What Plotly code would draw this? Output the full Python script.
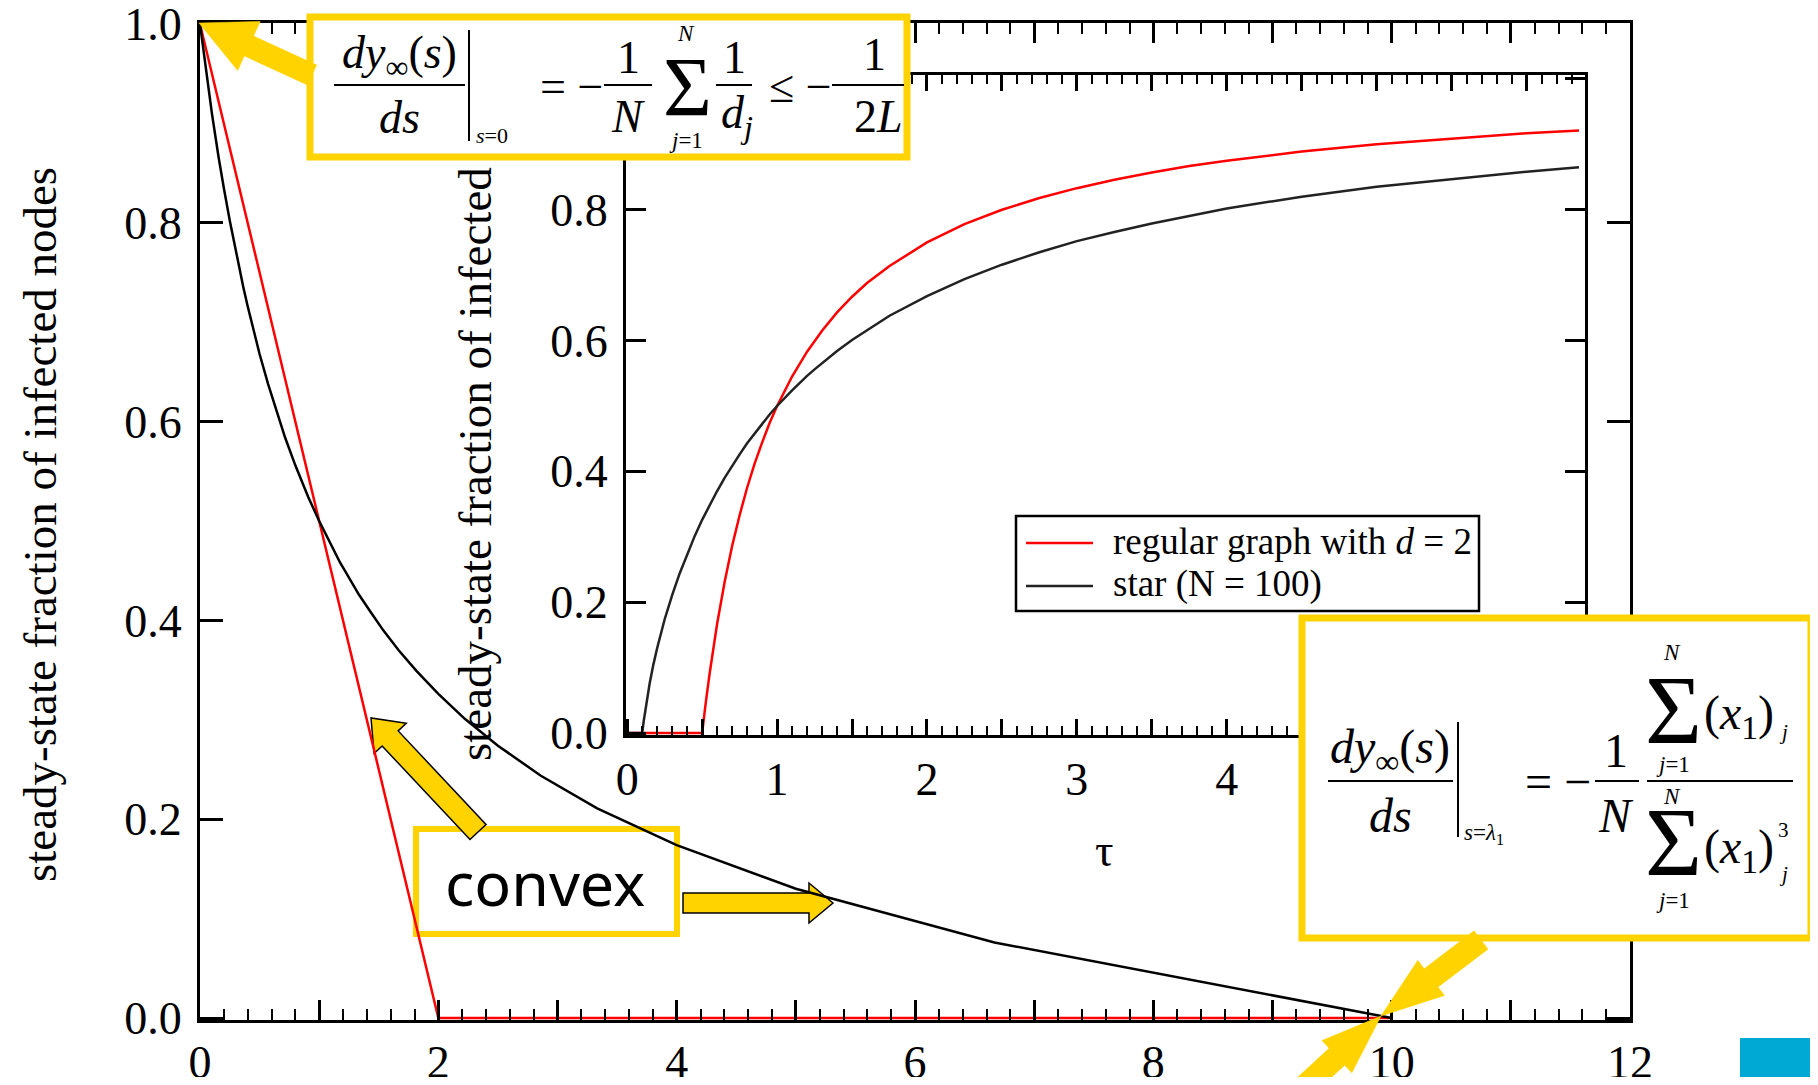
import math
import plotly.graph_objects as go

# ---------------- data ----------------
# main plot: steady-state fraction vs s
main_s_star = [0, 0.05, 0.1, 0.156, 0.1667, 0.2, 0.25, 0.308, 0.333, 0.364, 0.4, 0.444, 0.5, 0.571,
               0.667, 0.714, 0.8, 0.833, 0.909, 1.0, 1.053, 1.111, 1.176, 1.25, 1.333, 1.429, 1.538,
               1.667, 1.818, 2.0, 2.222, 2.5, 2.857, 3.333, 4.0, 5.0, 6.667, 10.0]
main_y_star = [1.0, 0.953, 0.910, 0.866, 0.858, 0.835, 0.802, 0.766, 0.752, 0.735, 0.716, 0.694, 0.668,
               0.638, 0.601, 0.584, 0.556, 0.546, 0.524, 0.500, 0.487, 0.473, 0.458, 0.443, 0.426,
               0.409, 0.390, 0.370, 0.349, 0.326, 0.301, 0.274, 0.244, 0.211, 0.174, 0.130, 0.076, 0.0]
main_s_reg = [0, 2.0, 10.0]
main_y_reg = [1.0, 0.0, 0.0]

# inset: steady-state fraction vs tau
inset_tau_star = [0, 0.1, 0.11, 0.125, 0.15, 0.175, 0.2, 0.25, 0.3, 0.35, 0.4, 0.45, 0.5, 0.55, 0.6,
                  0.65, 0.7, 0.75, 0.8, 0.85, 0.9, 0.95, 1.0, 1.1, 1.2, 1.25, 1.4, 1.5, 1.75, 2.0,
                  2.25, 2.5, 2.75, 3.0, 3.25, 3.5, 4.0, 4.5, 5.0, 5.5, 6.0, 6.35]
inset_y_star = [0, 0, 0.018, 0.042, 0.076, 0.105, 0.130, 0.174, 0.211, 0.244, 0.274, 0.301, 0.326,
                0.349, 0.370, 0.390, 0.409, 0.426, 0.443, 0.458, 0.473, 0.487, 0.500, 0.524, 0.546,
                0.556, 0.584, 0.601, 0.638, 0.668, 0.694, 0.716, 0.735, 0.752, 0.766, 0.779, 0.802,
                0.820, 0.835, 0.847, 0.858, 0.865]
inset_tau_reg = [0, 0.5, 0.525, 0.55, 0.6, 0.65, 0.7, 0.75, 0.8, 0.85, 0.9, 0.95, 1.0, 1.1, 1.2,
                 1.3, 1.4, 1.5, 1.6, 1.75, 2.0, 2.25, 2.5, 2.75, 3.0, 3.25, 3.5, 3.75, 4.0, 4.5,
                 5.0, 5.5, 6.0, 6.35]
inset_y_reg = [0, 0, 0.048, 0.091, 0.167, 0.231, 0.286, 0.333, 0.375, 0.412, 0.444, 0.474, 0.500,
               0.545, 0.583, 0.615, 0.643, 0.667, 0.688, 0.714, 0.750, 0.778, 0.800, 0.818, 0.833,
               0.846, 0.857, 0.867, 0.875, 0.889, 0.900, 0.909, 0.917, 0.921]

series_names = ["regular graph with <i>d</i> = 2", "star (N = 100)"]

main_x_tickvals = list(range(0, 13))
main_x_ticktext = [str(v) if v % 2 == 0 else " " for v in main_x_tickvals]
main_y_tickvals = [0, 0.2, 0.4, 0.6, 0.8, 1.0]
main_y_ticktext = ["0.0", "0.2", "0.4", "0.6", "0.8", "1.0"]
inset_x_tickvals = [0, 0.5, 1, 1.5, 2, 2.5, 3, 3.5, 4, 4.5, 5, 5.5, 6]
inset_x_ticktext = ["0", " ", "1", " ", "2", " ", "3", " ", "4", " ", "5", " ", "6"]
inset_y_tickvals = [0, 0.2, 0.4, 0.6, 0.8, 1.0]
inset_y_ticktext = ["0.0", "0.2", "0.4", "0.6", "0.8", "1.0"]

# ---------------- layout helpers (screen pixel -> paper) ----------------
M = 8                      # page body margin
W, H = 1818 - 2 * M, 1085 - 2 * M
PLOT_X0, PLOT_X1, PLOT_Y0, PLOT_Y1 = 200, 1630, 23, 1020   # screen pixels
L, R = PLOT_X0 - M, W - (PLOT_X1 - M)
T, B = PLOT_Y0 - M, H - (PLOT_Y1 - M)
PW, PH = PLOT_X1 - PLOT_X0, PLOT_Y1 - PLOT_Y0


def px(x):
    return (x - PLOT_X0) / PW


def py(y):
    return (PLOT_Y1 - y) / PH


SERIF = "Liberation Serif"
SANS = "Noto Sans"
YEL = "#FFD300"
RED = "#FF0000"

fig = go.Figure()
fig.add_trace(go.Scatter(x=main_s_reg, y=main_y_reg, mode="lines", name=series_names[0],
                         line=dict(color=RED, width=2.5), showlegend=False, xaxis="x", yaxis="y"))
fig.add_trace(go.Scatter(x=main_s_star, y=main_y_star, mode="lines", name=series_names[1],
                         line=dict(color="black", width=2.5), showlegend=False, xaxis="x", yaxis="y"))
fig.add_trace(go.Scatter(x=inset_tau_reg, y=inset_y_reg, mode="lines", name=series_names[0],
                         line=dict(color=RED, width=2.5), showlegend=False, xaxis="x2", yaxis="y2"))
fig.add_trace(go.Scatter(x=inset_tau_star, y=inset_y_star, mode="lines", name=series_names[1],
                         line=dict(color="#222222", width=2.5), showlegend=False, xaxis="x2", yaxis="y2"))

tickfont = dict(family=SERIF, size=46, color="black")
axcommon = dict(showline=True, linecolor="black", linewidth=3, mirror="ticks", ticks="inside",
                tickcolor="black", showgrid=False, zeroline=False, tickfont=tickfont,
                tickmode="array", automargin=False, ticklabeloverflow="allow")

fig.update_layout(
    width=W, height=H,
    margin=dict(l=L, r=R, t=T, b=B, autoexpand=False),
    paper_bgcolor="white", plot_bgcolor="white",
    showlegend=False,
    xaxis=dict(axcommon, range=[0, 12], tickvals=main_x_tickvals, ticktext=main_x_ticktext,
               ticklen=20, tickwidth=2.5, ticklabelstandoff=0,
               minor=dict(ticks="inside", tickmode="linear", tick0=0, dtick=0.2, ticklen=11,
                          tickwidth=2, tickcolor="black", showgrid=False)),
    yaxis=dict(axcommon, range=[-0.002, 1.001], tickvals=main_y_tickvals, ticktext=main_y_ticktext,
               ticklen=23, tickwidth=2.5, ticklabelstandoff=6),
    xaxis2=dict(axcommon, domain=[px(626), px(1585)], anchor="y2", range=[-0.008, 6.39],
                tickvals=inset_x_tickvals, ticktext=inset_x_ticktext, ticklen=16, tickwidth=2.5,
                ticklabelstandoff=2,
                minor=dict(ticks="inside", tickmode="linear", tick0=0, dtick=0.1, ticklen=9,
                           tickwidth=2, tickcolor="black", showgrid=False)),
    yaxis2=dict(axcommon, domain=[py(735), py(75)], anchor="x2", range=[-0.003, 1.006],
                tickvals=inset_y_tickvals, ticktext=inset_y_ticktext, ticklen=20, tickwidth=2.5,
                ticklabelstandoff=6),
)

shapes = []
ann = []


def txt(x, y, s, size=40, anchor="center", family=SERIF, angle=0):
    ann.append(dict(x=px(x), y=py(y), xref="paper", yref="paper", text=s, showarrow=False,
                    font=dict(family=family, size=size, color="black"), xanchor=anchor,
                    yanchor="middle", textangle=angle))


def hline(x0, x1, y, width=2, color="black", layer="above"):
    shapes.append(dict(type="line", xref="paper", yref="paper", x0=px(x0), x1=px(x1),
                       y0=py(y), y1=py(y), line=dict(color=color, width=width), layer=layer))


def vline(x, y0, y1, width=2):
    shapes.append(dict(type="line", xref="paper", yref="paper", x0=px(x), x1=px(x),
                       y0=py(y0), y1=py(y1), line=dict(color="black", width=width), layer="above"))


def rect(x0, y0, x1, y1, line_color, lw, fill="white", layer="above"):
    shapes.append(dict(type="rect", xref="paper", yref="paper", x0=px(x0), x1=px(x1),
                       y0=py(y1), y1=py(y0), line=dict(color=line_color, width=lw),
                       fillcolor=fill, layer=layer))


def block_arrow(tip, tail, head_len, head_hw, shaft_hw, outline=None, layer="above"):
    dx, dy = tail[0] - tip[0], tail[1] - tip[1]
    d = math.hypot(dx, dy)
    ux, uy = dx / d, dy / d
    nx, ny = -uy, ux
    bx, by = tip[0] + ux * head_len, tip[1] + uy * head_len
    pts = [tip,
           (bx + nx * head_hw, by + ny * head_hw),
           (bx + nx * shaft_hw, by + ny * shaft_hw),
           (tail[0] + nx * shaft_hw, tail[1] + ny * shaft_hw),
           (tail[0] - nx * shaft_hw, tail[1] - ny * shaft_hw),
           (bx - nx * shaft_hw, by - ny * shaft_hw),
           (bx - nx * head_hw, by - ny * head_hw)]
    path = "M " + " L ".join(f"{px(x):.5f},{py(y):.5f}" for x, y in pts) + " Z"
    shapes.append(dict(type="path", xref="paper", yref="paper", path=path, fillcolor=YEL,
                       line=dict(color=outline if outline else YEL, width=1.5 if outline else 0.5),
                       layer=layer))


# ---- "convex" box and arrows (under the curves) ----
rect(416, 829, 677, 934, YEL, 6, fill="white", layer="below")
block_arrow((371, 718), (478, 832), 28, 22, 11, outline="black", layer="below")
block_arrow((833, 903), (683, 903), 24, 20, 10, outline="black", layer="below")
txt(545, 882, "convex", size=61, family=SANS)

# ---- legend (inside inset) ----
rect(1016, 516, 1479, 611, "black", 2.5, fill="white")
hline(1026, 1093, 543, width=2.5, color=RED)
hline(1026, 1093, 586, width=2.5, color="#222222")
txt(1111, 541, series_names[0], size=37, anchor="left")
txt(1111, 584, series_names[1], size=37, anchor="left")

# ---- top formula box ----
F1 = 46
rect(310, 17, 907, 157, YEL, 7)
block_arrow((199, 23), (312, 75), 55, 27, 11)
txt(399, 56, "<i>dy</i><sub>∞</sub>(<i>s</i>)", F1)
hline(334, 465, 85)
txt(399, 118, "<i>ds</i>", F1)
vline(469, 30, 141)
txt(474, 136, "<i>s</i>=0", 22, anchor="left")
txt(571, 86, "= −", F1)
txt(628, 57, "1", F1)
hline(604, 652, 85)
txt(628, 116, "<i>N</i>", F1)
txt(687, 88, "Σ", 84)
txt(686, 33, "<i>N</i>", 23)
txt(686, 140, "<i>j</i>=1", 23)
txt(734, 57, "1", F1)
hline(716, 752, 85)
txt(737, 116, "<i>d</i><sub><i>j</i></sub>", F1)
txt(800, 86, "≤ −", F1)
txt(874, 55, "1", F1)
hline(832, 904, 85)
txt(878, 116, "2<i>L</i>", F1)

# ---- bottom-right formula box ----
F2 = 48
rect(1302, 618, 1811, 938, YEL, 7)
block_arrow((1381, 1016), (1481, 940), 63, 22, 11.5)
block_arrow((1381, 1016), (1290, 1100), 60, 22, 11.5)
txt(1390, 750, "<i>dy</i><sub>∞</sub>(<i>s</i>)", F2)
hline(1328, 1453, 781)
txt(1390, 815, "<i>ds</i>", F2)
vline(1458, 722, 837)
txt(1462, 834, "<i>s</i>=<i>λ</i><sub>1</sub>", 23, anchor="left")
txt(1558, 781, "= −", F2)
txt(1616, 750, "1", F2)
hline(1595, 1639, 781)
txt(1616, 815, "<i>N</i>", F2)
hline(1647, 1793, 781)
txt(1672, 652, "<i>N</i>", 23)
txt(1673, 710, "Σ", 98)
txt(1673, 764, "<i>j</i>=1", 23)
txt(1702, 716, "(<i>x</i><sub>1</sub>)", F2, anchor="left")
txt(1783, 732, "<i>j</i>", 21)
txt(1672, 796, "<i>N</i>", 23)
txt(1673, 842, "Σ", 98)
txt(1673, 900, "<i>j</i>=1", 23)
txt(1702, 850, "(<i>x</i><sub>1</sub>)", F2, anchor="left")
txt(1783, 830, "3", 21)
txt(1783, 874, "<i>j</i>", 21)

# ---- blue corner block ----
rect(1740, 1038, 1830, 1095, "#00A9D3", 0, fill="#00A9D3")

# ---- axis titles ----
txt(40, 525, "steady-state fraction of infected nodes", 47, angle=-90)
txt(475, 464, "steady-state fraction of infected", 47, angle=-90)
txt(1104, 850, "τ", 46)

fig.update_layout(shapes=shapes, annotations=ann)
fig.write_html("out.html")
